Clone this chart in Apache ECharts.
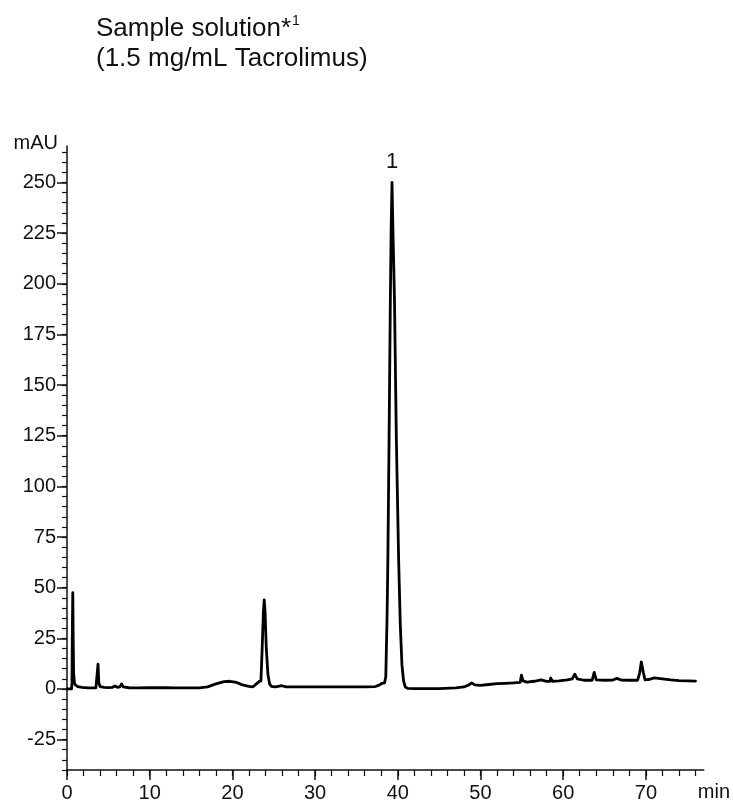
<!DOCTYPE html>
<html>
<head>
<meta charset="utf-8">
<script src="https://cdn.jsdelivr.net/npm/echarts@6/dist/echarts.min.js"></script>
<style>
html,body{margin:0;padding:0;background:#fff;}
#chart{width:733px;height:803px;}
</style>
</head>
<body>
<div id="chart"></div>
<script>
// Retention time (min) and detector response (mAU)
const retentionTime = [
  0, 0.55, 0.6, 0.65, 0.7, 0.75, 0.8, 0.9, 1.0, 1.3, 1.8, 2.5, 3.0, 3.5, 3.7, 3.75, 3.85, 4.0, 4.5, 5.0,
  5.5, 5.8, 6.1, 6.4, 6.6, 6.8, 7.5, 8.5, 10, 11, 12, 13, 14, 15, 16, 17, 18, 19, 19.7, 20.5,
  21.2, 22, 22.5, 22.9, 23.2, 23.45, 23.6, 23.75, 23.85, 23.95, 24.1, 24.3, 24.5, 24.7, 25.2, 26, 26.5, 28, 30, 33,
  36, 37.3, 37.8, 38.1, 38.4, 38.55, 38.7, 38.8, 38.95, 39.1, 39.2, 39.3, 39.42, 39.6, 39.82, 40.1, 40.3, 40.5, 40.7, 40.9,
  41.2, 42, 45, 47, 48, 48.6, 48.95, 49.3, 50, 51, 52, 53, 54, 54.8, 54.95, 55.15, 55.6, 56.5, 57.3, 58,
  58.35, 58.5, 58.7, 59.5, 60.5, 61.1, 61.4, 61.7, 62.5, 63.5, 63.75, 64.0, 65, 66, 66.5, 67, 68, 69, 69.25, 69.45,
  69.7, 69.9, 70.5, 71, 72, 73, 74, 75, 76
];
const absorbance = [
  0, 0, 3, 30, 47.5, 25, 8, 3, 2, 1.2, 0.8, 0.5, 0.5, 0.6, 1.5, 12.3, 3, 1.2, 0.8, 0.7,
  0.8, 1.5, 0.8, 1, 2.5, 1, 0.6, 0.5, 0.6, 0.7, 0.6, 0.5, 0.5, 0.5, 0.5, 1, 2.5, 3.6, 3.8, 3.2,
  2, 1.3, 1.1, 2.5, 3.6, 4, 20, 38, 44, 38, 20, 7, 2.5, 1.3, 1, 1.6, 1, 1, 1, 1,
  1, 1.2, 2, 2.8, 3, 6, 35, 64, 125, 192, 228, 250, 225, 192, 125, 64, 32, 12, 4, 1,
  0.3, 0.2, 0.2, 0.5, 1, 2, 3, 2, 1.8, 2.2, 2.6, 2.8, 3, 3.3, 6.8, 4, 3.4, 3.8, 4.5, 3.7,
  3.7, 5.4, 3.8, 4, 4.5, 5, 7.3, 5, 4.3, 4.3, 8.2, 4.5, 4.3, 4.4, 5.2, 4.4, 4.3, 4.3, 8, 13.3,
  8, 4.5, 4.8, 5.5, 5, 4.5, 4.1, 4, 3.9
];
const peakLabels = ['1'];
const peakTimes = [39.3];
const peakHeights = [250];

const xMajorTicks = [0, 10, 20, 30, 40, 50, 60, 70];
const xMinorTicks = [0, 2, 4, 6, 8, 10, 12, 14, 16, 18, 20, 22, 24, 26, 28, 30, 32, 34, 36, 38, 40,
  42, 44, 46, 48, 50, 52, 54, 56, 58, 60, 62, 64, 66, 68, 70, 72, 74, 76];
const yMajorTicks = [-25, 0, 25, 50, 75, 100, 125, 150, 175, 200, 225, 250];
const yMinorTicks = [-40, -35, -30, -25, -20, -15, -10, -5, 0, 5, 10, 15, 20, 25, 30, 35, 40, 45, 50,
  55, 60, 65, 70, 75, 80, 85, 90, 95, 100, 105, 110, 115, 120, 125, 130, 135, 140, 145, 150, 155,
  160, 165, 170, 175, 180, 185, 190, 195, 200, 205, 210, 215, 220, 225, 230, 235, 240, 245, 250,
  255, 260, 265];

const X_MIN = 0, X_MAX = 77, Y_MIN = -40, Y_MAX = 268;
const FONT = '"Liberation Sans", Arial, sans-serif';
const INK = '#111';

const chart = echarts.init(document.getElementById('chart'), null, {renderer: 'canvas'});
const seriesData = retentionTime.map((t, i) => [t, absorbance[i]]);

chart.setOption({
  animation: false,
  backgroundColor: '#fff',
  title: {
    left: 96,
    top: 14,
    padding: 0,
    text: '{a|Sample solution*}{s|1}\n{a|(1.5 mg/mL Tacrolimus)}',
    textStyle: {
      fontWeight: 'normal',
      rich: {
        a: {fontFamily: FONT, fontSize: 26, fontWeight: 'normal', lineHeight: 30, color: INK},
        s: {fontFamily: FONT, fontSize: 14, fontWeight: 'normal', lineHeight: 30, color: INK, verticalAlign: 'top', padding: [0, 0, 14, 1]}
      }
    }
  },
  grid: {left: 67, right: 27, top: 146, bottom: 32, containLabel: false},
  xAxis: [
    {
      type: 'value', min: X_MIN, max: X_MAX, position: 'bottom',
      name: 'min', nameLocation: 'end', nameGap: -6,
      nameTextStyle: {fontFamily: FONT, fontSize: 20, color: INK, align: 'left', verticalAlign: 'top', padding: [12, 0, 0, 0]},
      axisLine: {onZero: false, lineStyle: {color: INK, width: 1.5}},
      axisTick: {show: true, inside: false, length: 10, customValues: xMajorTicks, lineStyle: {color: INK, width: 1.5}},
      axisLabel: {show: true, customValues: xMajorTicks, margin: 13, fontFamily: FONT, fontSize: 20, color: INK},
      splitLine: {show: false}
    },
    {
      type: 'value', min: X_MIN, max: X_MAX, position: 'bottom',
      axisLine: {show: false, onZero: false},
      axisTick: {show: true, inside: false, length: 6, customValues: xMinorTicks, lineStyle: {color: INK, width: 1.2}},
      axisLabel: {show: false},
      splitLine: {show: false}
    }
  ],
  yAxis: [
    {
      type: 'value', min: Y_MIN, max: Y_MAX, position: 'left',
      name: 'mAU', nameLocation: 'end', nameGap: 3,
      nameTextStyle: {fontFamily: FONT, fontSize: 20, color: INK, align: 'right', verticalAlign: 'middle', padding: [0, 9, 0, 0]},
      axisLine: {onZero: false, lineStyle: {color: INK, width: 1.5}},
      axisTick: {show: true, inside: false, length: 10, customValues: yMajorTicks, lineStyle: {color: INK, width: 1.5}},
      axisLabel: {show: true, customValues: yMajorTicks, margin: 11, fontFamily: FONT, fontSize: 20, color: INK},
      splitLine: {show: false}
    },
    {
      type: 'value', min: Y_MIN, max: Y_MAX, position: 'left',
      axisLine: {show: false, onZero: false},
      axisTick: {show: true, inside: false, length: 5, customValues: yMinorTicks, lineStyle: {color: INK, width: 1.2}},
      axisLabel: {show: false},
      splitLine: {show: false}
    }
  ],
  series: [
    {
      type: 'line',
      xAxisIndex: 0,
      yAxisIndex: 0,
      data: seriesData,
      showSymbol: false,
      symbol: 'none',
      smooth: false,
      lineStyle: {color: '#000', width: 2.8, join: 'round', cap: 'round'},
      markPoint: {
        symbol: 'circle',
        symbolSize: 0,
        data: peakLabels.map((lab, i) => ({coord: [peakTimes[i], peakHeights[i]], value: lab})),
        label: {show: true, position: 'top', distance: 10, formatter: '{c}', fontFamily: FONT, fontSize: 22, color: INK}
      }
    }
  ]
});
</script>
</body>
</html>
